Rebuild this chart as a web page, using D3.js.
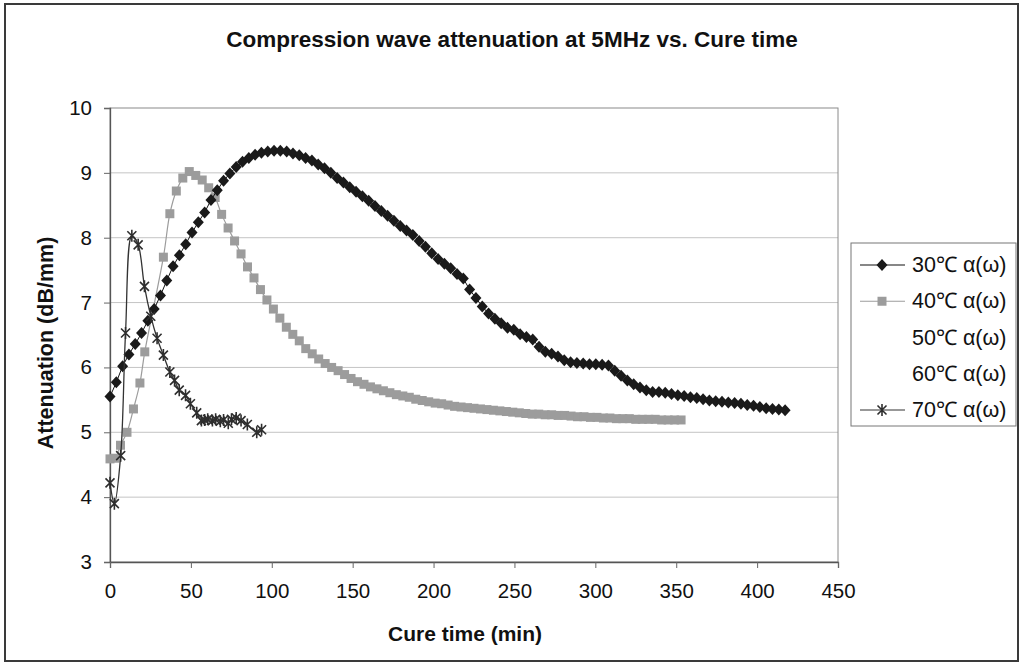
<!DOCTYPE html>
<html><head><meta charset="utf-8">
<script src="https://cdn.jsdelivr.net/npm/d3@7"></script>
<style>body{margin:0;background:#fff}svg{display:block}text{font-family:"Liberation Sans",Arial,sans-serif;fill:#111}</style>
</head><body>
<svg id="c" width="1023" height="664"></svg>
<script>
const title = "Compression wave attenuation at 5MHz vs. Cure time";
const xTitle = "Cure time (min)";
const yTitle = "Attenuation (dB/mm)";
const xTicks = [0,50,100,150,200,250,300,350,400,450];
const yTicks = [3,4,5,6,7,8,9,10];
const seriesNames = ["30\u2103 \u03b1(\u03c9)","40\u2103 \u03b1(\u03c9)","50\u2103 \u03b1(\u03c9)","60\u2103 \u03b1(\u03c9)","70\u2103 \u03b1(\u03c9)"];

const t30 = [0,3.9,7.8,11.7,15.6,19.5,23.4,27.3,31.2,35.1,39,42.9,46.8,50.7,54.6,58.5,62.4,66.3,70.2,74.1,78,81.9,85.8,89.7,93.6,97.5,101.4,105.3,109.2,113.1,117,120.9,124.8,128.7,132.6,136.5,140.4,144.3,148.2,152.1,156,159.9,163.8,167.7,171.6,175.5,179.4,183.3,187.2,191.1,195,198.9,202.8,206.7,210.6,214.5,218.4,222.3,226.2,230.1,234,237.9,241.8,245.7,249.6,253.5,257.4,261.3,265.2,269.1,273,276.9,280.8,284.7,288.6,292.5,296.4,300.3,304.2,308.1,312,315.9,319.8,323.7,327.6,331.5,335.4,339.3,343.2,347.1,351,354.9,358.8,362.7,366.6,370.5,374.4,378.3,382.2,386.1,390,393.9,397.8,401.7,405.6,409.5,413.4,417.3];
const v30 = [5.55,5.77,6.02,6.20,6.36,6.53,6.72,6.90,7.11,7.34,7.56,7.73,7.90,8.08,8.24,8.39,8.58,8.73,8.88,8.99,9.09,9.17,9.23,9.28,9.31,9.33,9.34,9.34,9.33,9.30,9.27,9.23,9.19,9.13,9.07,9.00,8.92,8.85,8.78,8.71,8.64,8.57,8.49,8.41,8.34,8.26,8.18,8.11,8.04,7.95,7.86,7.76,7.67,7.60,7.53,7.44,7.37,7.20,7.07,6.94,6.83,6.75,6.68,6.61,6.58,6.51,6.47,6.43,6.32,6.24,6.21,6.17,6.11,6.08,6.07,6.06,6.05,6.05,6.04,6.03,5.95,5.87,5.80,5.74,5.69,5.65,5.62,5.62,5.61,5.59,5.57,5.56,5.54,5.53,5.51,5.49,5.48,5.47,5.46,5.45,5.44,5.42,5.41,5.39,5.37,5.36,5.35,5.34];

const t40 = [0,3,6.5,10.5,14.5,18.5,21.5,33,37,41,45,49,53,57,61,65,69,73,77,81,85,89,93,97,101,105,109,113,117,121,125,129,133,137,141,145,149,153,157,161,165,169,173,177,181,185,189,193,197,201,205,209,213,217,221,225,229,233,237,241,245,249,253,257,261,265,269,273,277,281,285,289,293,297,301,305,309,313,317,321,325,329,333,337,341,345,349,353];
const v40 = [4.59,4.60,4.80,5.00,5.36,5.76,6.24,7.70,8.37,8.72,8.92,9.02,8.96,8.89,8.77,8.62,8.36,8.15,7.95,7.75,7.55,7.38,7.20,7.04,6.90,6.76,6.62,6.51,6.41,6.29,6.21,6.13,6.06,6.00,5.95,5.89,5.83,5.78,5.74,5.70,5.67,5.64,5.61,5.58,5.56,5.54,5.51,5.49,5.47,5.45,5.44,5.42,5.40,5.39,5.38,5.37,5.36,5.35,5.34,5.33,5.32,5.31,5.30,5.29,5.28,5.28,5.27,5.27,5.26,5.26,5.25,5.24,5.24,5.23,5.23,5.22,5.22,5.21,5.21,5.21,5.20,5.20,5.20,5.20,5.19,5.19,5.19,5.19];

const t70 = [0,2.7,6.6,9.6,13.5,17.4,21.3,25.2,29.1,33,37,39.9,42.8,46.7,49.7,53.6,56.5,58.5,60.4,63.3,65.3,68.2,70.2,73.1,75.1,78,81,84.9,90.7,93.7];
const v70 = [4.22,3.90,4.64,6.53,8.03,7.89,7.25,6.79,6.45,6.19,5.93,5.80,5.65,5.57,5.44,5.30,5.18,5.19,5.20,5.18,5.20,5.17,5.19,5.14,5.20,5.22,5.18,5.12,5.00,5.04];

const zip = (a,b) => a.slice(0, Math.min(a.length,b.length)).map((t,i)=>[t,b[i]]);
const svg = d3.select("#c");
const L=110, R=838, T=108, B=562;
const x = d3.scaleLinear().domain([0,450]).range([L,R]);
const y = d3.scaleLinear().domain([3,10]).range([B,T]);

svg.append("rect").attr("x",0).attr("y",0).attr("width",1023).attr("height",664).attr("fill","#fff");
svg.append("rect").attr("x",5).attr("y",4).attr("width",1013).attr("height",657)
  .attr("fill","#fff").attr("stroke","#3a3a3a").attr("stroke-width",2);

// gridlines
svg.append("g").selectAll("line").data(yTicks.filter(d=>d>3 && d<10)).join("line")
  .attr("x1",L).attr("x2",R).attr("y1",d=>y(d)).attr("y2",d=>y(d))
  .attr("stroke","#c4c4c4").attr("stroke-width",1);
svg.append("rect").attr("x",L).attr("y",T).attr("width",R-L).attr("height",B-T)
  .attr("fill","none").attr("stroke","#8a8a8a").attr("stroke-width",1);

// axes
const ya = svg.append("g").attr("transform",`translate(${L},0)`)
  .call(d3.axisLeft(y).tickValues(yTicks).tickSize(6).tickPadding(12).tickFormat(d3.format("d")));
const xa = svg.append("g").attr("transform",`translate(0,${B})`)
  .call(d3.axisBottom(x).tickValues(xTicks).tickSize(6).tickPadding(15).tickFormat(d3.format("d")));
[ya,xa].forEach(g=>{
  g.select(".domain").attr("stroke","#555").attr("stroke-width",1.3);
  g.selectAll(".tick line").attr("stroke","#666");
  g.selectAll(".tick text").attr("font-size",20.5).attr("font-family","'Liberation Sans',Arial,sans-serif").attr("fill","#222");
});

// title & axis titles
svg.append("text").attr("x",512).attr("y",47).attr("text-anchor","middle")
  .attr("font-size",22.5).attr("font-weight","bold").text(title);
svg.append("text").attr("x",465).attr("y",641).attr("text-anchor","middle")
  .attr("font-size",21).attr("font-weight","bold").text(xTitle);
svg.append("text").attr("transform","translate(53,343) rotate(-90)").attr("text-anchor","middle")
  .attr("font-size",21.5).attr("font-weight","bold").text(yTitle);

// markers
const diamond = "M0,-6L5.5,0L0,6L-5.5,0Z";
const square = "M-4.5,-4.5H4.5V4.5H-4.5Z";
const star = "M-4.5,-4.5L4.5,4.5M-4.5,4.5L4.5,-4.5M0,-6V6";

const plot = svg.append("g");
const d40 = zip(t40,v40), d30 = zip(t30,v30), d70 = zip(t70,v70);
const lineL = d3.line().x(d=>x(d[0])).y(d=>y(d[1]));
const lineS = d3.line().x(d=>x(d[0])).y(d=>y(d[1])).curve(d3.curveCatmullRom.alpha(0.5));

plot.append("path").attr("d",lineS(d40)).attr("fill","none").attr("stroke","#9c9c9c").attr("stroke-width",1.2);
plot.append("g").selectAll("path").data(d40).join("path")
  .attr("transform",d=>`translate(${x(d[0])},${y(d[1])})`).attr("d",square).attr("fill","#9c9c9c");

plot.append("path").attr("d",lineL(d30)).attr("fill","none").attr("stroke","#111").attr("stroke-width",1);
plot.append("g").selectAll("path").data(d30).join("path")
  .attr("transform",d=>`translate(${x(d[0])},${y(d[1])})`).attr("d",diamond).attr("fill","#1a1a1a");

plot.append("path").attr("d",lineS(d70)).attr("fill","none").attr("stroke","#333").attr("stroke-width",1.3);
plot.append("g").selectAll("path").data(d70).join("path")
  .attr("transform",d=>`translate(${x(d[0])},${y(d[1])})`).attr("d",star)
  .attr("fill","none").attr("stroke","#2e2e2e").attr("stroke-width",1.6);

// legend
const lg = svg.append("g");
lg.append("rect").attr("x",851).attr("y",243).attr("width",165).attr("height",183)
  .attr("fill","#fff").attr("stroke","#777").attr("stroke-width",1);
const legendStyles = [
  {stroke:"#111", mark:diamond, fill:"#1a1a1a", mstroke:"none"},
  {stroke:"#9c9c9c", mark:square, fill:"#9c9c9c", mstroke:"none"},
  {stroke:"none", mark:null},
  {stroke:"none", mark:null},
  {stroke:"#333", mark:star, fill:"none", mstroke:"#2e2e2e"}
];
const rowY = d3.scalePoint().domain(seriesNames).range([265,410]);
seriesNames.forEach((n,i)=>{
  const s = legendStyles[i], yy = rowY(n);
  if (s.stroke!=="none") lg.append("line").attr("x1",860).attr("x2",905).attr("y1",yy).attr("y2",yy).attr("stroke",s.stroke).attr("stroke-width",1.2);
  if (s.mark) lg.append("path").attr("transform",`translate(882,${yy})`).attr("d",s.mark)
     .attr("fill",s.fill).attr("stroke",s.mstroke).attr("stroke-width",1.6);
  lg.append("text").attr("x",912).attr("y",yy+7).attr("font-size",21.5).attr("fill","#222").text(n);
});
</script>
</body></html>
